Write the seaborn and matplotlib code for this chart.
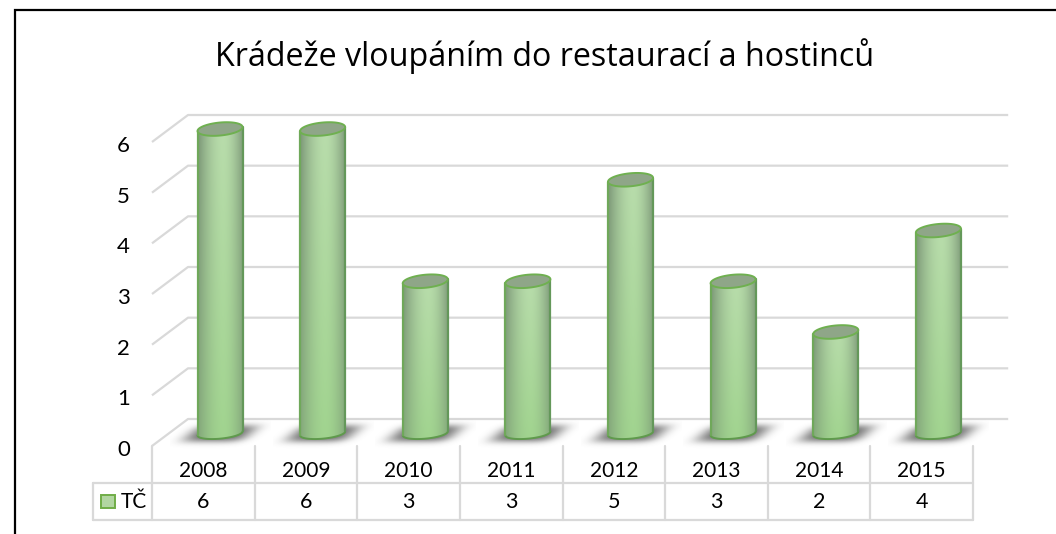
import numpy as np
import pandas as pd
import seaborn as sns
import matplotlib
matplotlib.use("Agg")
import matplotlib.pyplot as plt
from matplotlib.lines import Line2D
from matplotlib.patches import Polygon, Rectangle
from matplotlib.transforms import ScaledTranslation

title = "Krádeže vloupáním do restaurací a hostinců"
years = ["2008", "2009", "2010", "2011", "2012", "2013", "2014", "2015"]
values = [6, 6, 3, 3, 5, 3, 2, 4]
series_name = "TČ"
y_ticks = [0, 1, 2, 3, 4, 5, 6]

sns.set_theme(style="white")
plt.rcParams["font.family"] = ["Lato", "DejaVu Sans"]

W, H = 1056, 534
fig = plt.figure(figsize=(W / 100, H / 100), dpi=100, facecolor="white")

def rect(l, r, top, bottom):
    return [l / W, 1 - bottom / H, (r - l) / W, (bottom - top) / H]

PX_X = 102.6
PX_Y = 50.67
PAD = 0.4   # extra room below and above the value range, so the cylinder ends are not cut
axF = fig.add_axes(rect(152, 973, 142, 446))   # front plane: ticks and table
axB = fig.add_axes(rect(168.7, 989.7, 129 - PAD * PX_Y, 433.5 + PAD * PX_Y))  # bars plane
for ax in (axF, axB):
    ax.patch.set_alpha(0)
    for s in ax.spines.values():
        s.set_visible(False)

GRID = "#d9d9d9"
# ---- front axes
axF.set_xlim(-0.5, 7.5)
axF.set_ylim(0, 6)
axF.set_yticks(y_ticks)
axF.set_xticks(range(len(years)))
axF.set_xticklabels(years)
axF.tick_params(axis="y", length=0, pad=16, labelsize=16, colors="black")
axF.tick_params(axis="x", length=0, pad=11, labelsize=15, colors="black")
for lbl in axF.get_yticklabels():
    lbl.set_transform(lbl.get_transform() + ScaledTranslation(0, -2 / 100, fig.dpi_scale_trans))

dx, dy = 36 / PX_X, 27 / PX_Y
xr = (1008 - 152) / PX_X - 0.5
for v in y_ticks:
    axF.plot([-0.5, -0.5 + dx, xr], [v, v + dy, v + dy], color=GRID, lw=1.6,
             clip_on=False, zorder=1, solid_capstyle="butt")

# ---- data table
row1 = -37 / PX_Y
row2 = -74.5 / PX_Y
xleft = -0.5 - 59 / PX_X
for i in range(len(years) + 1):
    axF.plot([i - 0.5, i - 0.5], [0, row2], color=GRID, lw=1.6, clip_on=False)
axF.plot([xleft, 7.5], [row1, row1], color=GRID, lw=1.6, clip_on=False)
axF.plot([xleft, 7.5], [row2, row2], color=GRID, lw=1.6, clip_on=False)
axF.plot([xleft, xleft], [row1, row2], color=GRID, lw=1.6, clip_on=False)
for i, v in enumerate(values):
    axF.text(i, (row1 + row2) / 2, str(v), ha="center", va="center",
             fontsize=15.5, color="black", clip_on=False)
axF.text(-0.5 - 31 / PX_X, (row1 + row2) / 2, series_name, ha="left", va="center",
         fontsize=15, color="black", clip_on=False)
axF.add_patch(Rectangle((-0.5 - 51 / PX_X, -55.5 / PX_Y - 6.5 / PX_Y), 14 / PX_X, 13 / PX_Y,
                        facecolor="#b2d6a2", edgecolor="#70ad47", lw=1.4, clip_on=False))

# ---- bars
df = pd.DataFrame({"year": years, "value": values})
sns.barplot(data=df, x="year", y="value", ax=axB, width=45 / PX_X, color="#a9d18e",
            saturation=1, linewidth=0, zorder=3)
axB.set_xlabel("")
axB.set_ylabel("")
axB.set_xticks([])
axB.set_yticks([])

def ellipse_pts(cx, cy, a, b_px, k_px, t):
    return np.column_stack([cx + a * np.cos(t),
                            cy + (b_px * np.sin(t) + k_px * np.cos(t)) / PX_Y])

def shade_image(n=90):
    t = np.linspace(0, 1, n)[None, :, None]
    s = np.linspace(0, 1, 200)[:, None, None]   # 0 at top of bar
    top = np.array([0.725, 0.865, 0.675])
    bot = np.array([0.63, 0.83, 0.56])
    base = top * (1 - s) + bot * s
    w = np.where(t < 0.55, (0.55 - t) / 0.55, (t - 0.55) / 0.45) ** 1.8
    w = w * (0.85 - 0.25 * s)
    gray = np.array([0.44, 0.54, 0.43])
    return np.clip(base * (1 - w) + gray * w, 0, 1)

def shadow_image():
    # soft skewed blob: pixel offsets from the cylinder's base
    X, Y = np.meshgrid(np.linspace(-50, 50, 200), np.linspace(-16, 16, 64))
    Xs = X + 1.15 * (Y - 1)
    a = np.exp(-(np.abs(Xs) / 31) ** 4) * np.exp(-(np.abs(Y - 1) / 8.5) ** 3) * 0.80
    rgba = np.zeros(a.shape + (4,))
    rgba[..., :3] = 0.27
    rgba[..., 3] = a
    return rgba

img = shade_image()
shadow = shadow_image()
tt = np.linspace(0, 2 * np.pi, 80)
lower = np.linspace(np.pi, 2 * np.pi, 40)
upper = np.linspace(0, np.pi, 40)
for p, v in zip(axB.patches, values):
    x0, w_, h_ = p.get_x(), p.get_width(), p.get_height()
    cx = x0 + w_ / 2
    a = w_ / 2
    p.set_visible(False)
    # floor shadow
    axB.imshow(shadow, extent=[cx - 50 / PX_X, cx + 50 / PX_X, -16 / PX_Y, 16 / PX_Y],
               origin="upper", aspect="auto", interpolation="bilinear", zorder=2)
    # cylinder body
    outline = np.vstack([ellipse_pts(cx, 0, a, 5.2, 2.0, lower),
                         ellipse_pts(cx, h_, a, 6.5, 2.0, upper)])
    body = Polygon(outline, closed=True, transform=axB.transData, facecolor="none", lw=0)
    axB.add_patch(body)
    im = axB.imshow(img, extent=[x0, x0 + w_, -8 / PX_Y, h_ + 8 / PX_Y], aspect="auto",
                    interpolation="bilinear", zorder=3)
    im.set_clip_path(body)
    low = ellipse_pts(cx, 0, a, 5.2, 2.0, lower)
    axB.plot(low[:, 0], low[:, 1], color="#5f9a4c", lw=1.4, clip_on=False, zorder=4)
    for sx, col, k in ((x0, "#6fa85a", -2.0), (x0 + w_, "#64985a", 2.0)):
        axB.plot([sx, sx], [k / PX_Y, h_ + k / PX_Y], color=col, lw=1.6,
                 clip_on=False, zorder=4)
    axB.add_patch(Polygon(ellipse_pts(cx, h_, a, 6.5, 2.0, tt), closed=True,
                          facecolor="#8fa688", edgecolor="#6fb050", lw=1.4,
                          clip_on=False, zorder=5))
axB.set_xlim(-0.5, 7.5)
axB.set_ylim(-PAD, 6 + PAD)

# ---- title and frame
fig.text(545 / W, 1 - 65.5 / H, title, ha="center", va="baseline", fontsize=23.2,
         family=["Open Sans", "DejaVu Sans"], color="black")
fig.add_artist(Line2D([15 / W, 15 / W, 1], [0, 1 - 9.5 / H, 1 - 9.5 / H], color="black", lw=1.6,
                      transform=fig.transFigure, solid_joinstyle="miter"))

fig.savefig("out.png", dpi=100, facecolor="white")
